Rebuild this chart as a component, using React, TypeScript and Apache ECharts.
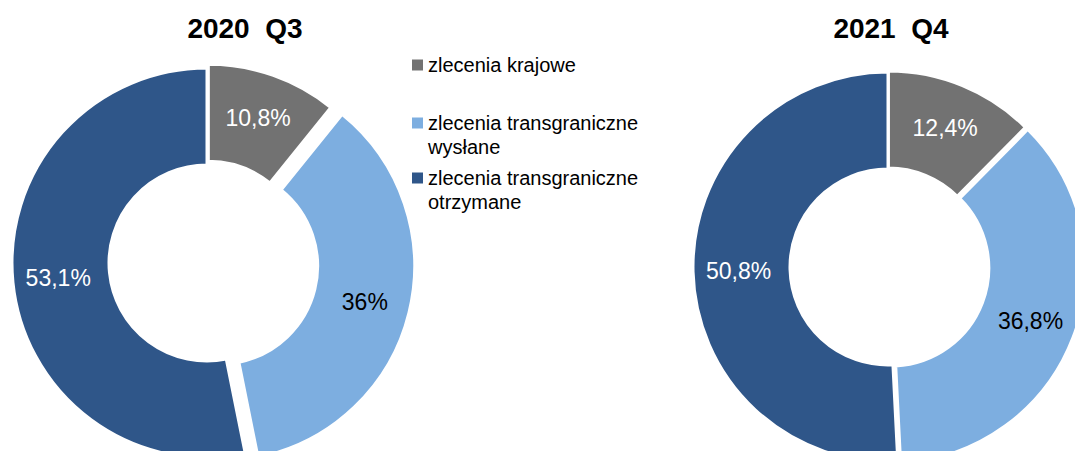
import React, { useEffect, useRef } from "react";
import * as echarts from "echarts";

// ---- data ----
const categories = [
  "zlecenia krajowe",
  "zlecenia transgraniczne wysłane",
  "zlecenia transgraniczne otrzymane",
];
const periods = ["2020  Q3", "2021  Q4"];
const values2020Q3 = [10.8, 36.0, 53.1];
const values2021Q4 = [12.4, 36.8, 50.8];

// ---- styles ----
const colors = ["#727272", "#7daee0", "#2f5689"];
const labelColors = ["#ffffff", "#000000", "#ffffff"];
const FONT = "'Liberation Sans', Arial, sans-serif";

const charts = [
  { title: periods[0], values: values2020Q3, center: [207, 263], titleX: 245, offsets: [4, 13, 0] },
  { title: periods[1], values: values2021Q4, center: [888, 267], titleX: 891, offsets: [1, 3, 0] },
];

const fmt = (v: number) => String(v).replace(".", ",") + "%";

export default function App() {
  const ref = useRef<HTMLDivElement>(null);

  useEffect(() => {
    if (!ref.current) return;
    const chart = echarts.init(ref.current, undefined, { renderer: "svg" });

    const series: any[] = [];
    charts.forEach((c) => {
      categories.forEach((_, k) => {
        series.push({
          type: "pie",
          center: c.center,
          radius: [98, 195],
          startAngle: 90,
          clockwise: true,
          avoidLabelOverlap: false,
          selectedMode: "single",
          selectedOffset: c.offsets[k],
          silent: true,
          emphasis: { disabled: true },
          labelLine: { show: false },
          data: c.values.map((v, i) => ({
            name: categories[i],
            value: v,
            selected: i === k,
            itemStyle:
              i === k
                ? { color: colors[i], borderColor: "#ffffff", borderWidth: 3 }
                : { color: "rgba(0,0,0,0)", borderWidth: 0 },
            label: {
              show: i === k,
              position: "inside",
              color: labelColors[i],
              fontSize: 23,
              fontFamily: FONT,
              formatter: (p: any) => fmt(p.value),
            },
          })),
        });
      });
    });

    const legendTops = [53, 87, 142];
    const legends = categories.map((name, i) => ({
      orient: "vertical",
      left: 412,
      top: legendTops[i],
      padding: 0,
      itemWidth: 11,
      itemHeight: 11,
      itemGap: 0,
      icon: "rect",
      selectedMode: false,
      data: [{ name, itemStyle: { color: colors[i], borderWidth: 0 } }],
      formatter: (n: string) =>
        n.indexOf("transgraniczne ") >= 0
          ? "\n" + n.replace("transgraniczne ", "transgraniczne\n")
          : n,
      textStyle: {
        fontSize: 20,
        fontFamily: FONT,
        color: "#000000",
        lineHeight: 24,
      },
    }));

    chart.setOption({
      animation: false,
      backgroundColor: "#ffffff",
      title: charts.map((c) => ({
        text: c.title,
        left: c.titleX,
        top: 14,
        textAlign: "center",
        padding: 0,
        textStyle: { fontSize: 28, fontWeight: "bold", fontFamily: FONT, color: "#000000" },
      })),
      legend: legends,
      series,
    });

    return () => chart.dispose();
  }, []);

  return (
    <div
      ref={ref}
      style={{ position: "absolute", left: 0, top: 0, width: 1075, height: 451 }}
    />
  );
}
